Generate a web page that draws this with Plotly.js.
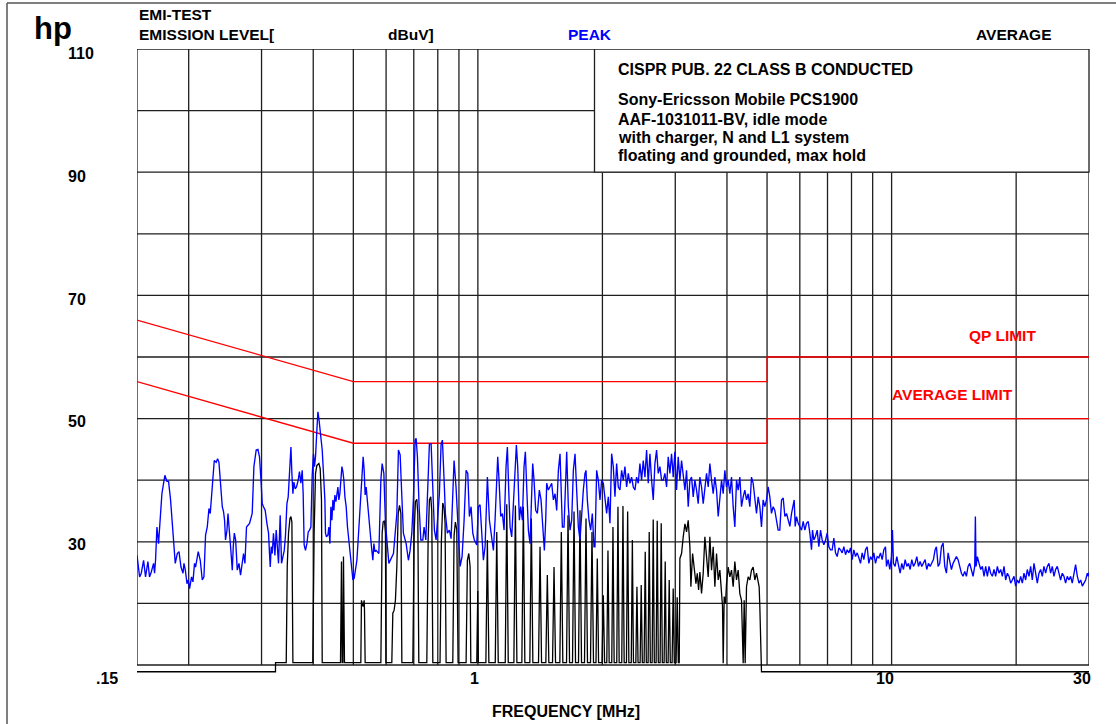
<!DOCTYPE html>
<html><head><meta charset="utf-8">
<script src="https://cdn.plot.ly/plotly-3.0.1.min.js"></script>
<style>html,body{margin:0;padding:0;background:#fff}#chart{width:1116px;height:724px}</style>
</head><body><div id="chart"></div>
<script>
// ---- PEAK trace (blue): [frequency MHz, level dBuV] ----
const peakBand1 = [[0.1500,27.8],[0.1522,24.3],[0.1536,24.9],[0.1556,27.0],[0.1573,24.3],[0.1594,26.8],[0.1608,24.3],[0.1624,25.1],[0.1645,26.5],[0.1654,24.9],[0.1663,27.0],[0.1676,32.4],[0.1691,29.7],[0.1707,34.0],[0.1723,37.8],[0.1739,39.5],[0.1752,40.8],[0.1772,39.8],[0.1788,39.8],[0.1808,36.8],[0.1828,32.2],[0.1843,30.3],[0.1856,26.5],[0.1877,28.1],[0.1895,28.4],[0.1916,25.9],[0.1938,24.9],[0.1948,26.5],[0.1963,25.4],[0.1981,23.2],[0.1995,23.8],[0.2010,22.4],[0.2032,24.3],[0.2048,23.5],[0.2066,26.5],[0.2078,25.9],[0.2109,28.4],[0.2133,27.0],[0.2157,23.8],[0.2177,24.3],[0.2197,31.1],[0.2218,32.4],[0.2239,35.4],[0.2255,34.6],[0.2276,37.8],[0.2306,43.2],[0.2331,42.9],[0.2349,43.5],[0.2367,42.9],[0.2384,39.5],[0.2411,35.7],[0.2428,34.9],[0.2442,33.5],[0.2455,30.3],[0.2475,31.9],[0.2489,34.6],[0.2511,30.3],[0.2525,29.2],[0.2539,27.0],[0.2549,25.4],[0.2563,29.2],[0.2578,31.4],[0.2597,30.3],[0.2621,25.4],[0.2646,26.5],[0.2669,24.6],[0.2690,26.2],[0.2714,28.1],[0.2735,26.5],[0.2759,32.4],[0.2806,33.0],[0.2848,34.6],[0.2875,42.2],[0.2901,44.6]];
const peakBand2 = [[0.2912,44.9],[0.2940,45.0],[0.2966,43.8],[0.2994,39.5],[0.3011,36.2],[0.3033,35.7],[0.3062,35.1],[0.3091,33.0],[0.3119,31.4],[0.3136,28.1],[0.3149,25.9],[0.3166,29.2],[0.3184,28.1],[0.3206,31.4],[0.3232,27.8],[0.3255,31.9],[0.3279,27.6],[0.3297,26.5],[0.3328,34.3],[0.3353,26.5],[0.3379,27.6],[0.3404,28.6],[0.3428,31.1],[0.3455,36.2],[0.3480,37.3],[0.3505,41.1],[0.3533,45.4],[0.3552,41.1],[0.3572,37.8],[0.3592,39.7],[0.3618,38.6],[0.3644,38.9],[0.3679,40.0],[0.3705,41.4],[0.3734,39.5],[0.3762,41.6],[0.3782,37.8],[0.3803,29.5],[0.3831,28.6],[0.3861,29.7],[0.3890,31.6],[0.3918,31.9],[0.3948,32.4],[0.3977,40.8],[0.4006,44.3],[0.4028,42.2],[0.4051,43.8],[0.4082,48.1],[0.4105,51.1],[0.4128,50.0],[0.4151,48.6],[0.4181,46.5],[0.4205,44.9],[0.4235,41.1],[0.4268,36.8],[0.4282,31.4],[0.4306,30.8],[0.4340,31.1],[0.4364,32.4],[0.4389,29.7],[0.4413,35.7],[0.4438,33.5],[0.4462,36.8],[0.4487,35.1],[0.4512,37.6],[0.4538,36.5],[0.4563,37.8],[0.4589,38.9],[0.4613,36.8],[0.4639,37.8],[0.4665,40.0],[0.4692,42.2],[0.4718,41.4],[0.4744,40.0],[0.4771,37.3],[0.4805,35.7],[0.4840,32.4],[0.4878,30.3],[0.4914,28.1],[0.4949,25.9],[0.4988,23.8],[0.5024,24.1],[0.5060,25.4],[0.5100,27.0],[0.5136,30.3],[0.5174,34.3],[0.5203,36.8],[0.5244,41.6],[0.5281,43.8],[0.5311,41.6],[0.5340,37.6],[0.5370,38.9],[0.5409,36.2],[0.5452,33.5],[0.5491,31.4],[0.5531,29.2],[0.5574,27.0],[0.5606,29.7],[0.5637,28.4],[0.5677,28.6]];
const peakBand3 = [[0.5763,28.1],[0.5828,40.0],[0.5870,42.7],[0.5926,41.1],[0.5979,33.0],[0.6026,30.3],[0.6093,26.5],[0.6251,28.1],[0.6370,34.6],[0.6427,44.9],[0.6488,44.1],[0.6550,37.3],[0.6607,31.4],[0.6708,29.7],[0.6794,27.0],[0.6858,28.6],[0.6923,31.4],[0.6986,37.0],[0.7052,46.5],[0.7091,46.8],[0.7143,43.8],[0.7211,35.7],[0.7280,30.3],[0.7361,30.3],[0.7413,32.4],[0.7484,30.3],[0.7551,37.3],[0.7636,45.9],[0.7709,45.9],[0.7782,38.9],[0.7851,31.9],[0.7925,30.3],[0.7984,34.1],[0.8072,37.8],[0.8149,45.9],[0.8209,46.5],[0.8287,40.0],[0.8346,34.6],[0.8439,31.4],[0.8534,31.9],[0.8615,30.5],[0.8697,38.9],[0.8759,43.2],[0.8856,38.9],[0.8940,32.4],[0.9057,26.0],[0.9158,27.6],[0.9262,33.5],[0.9366,41.6],[0.9454,41.1],[0.9539,34.1],[0.9629,35.7],[0.9721,31.4],[0.9806,30.3],[0.9938,29.5],[1.0028,35.7]];
const peakBand4 = [[1.0123,36.0],[1.0218,30.3],[1.0312,27.0],[1.0409,29.2],[1.0544,40.5],[1.0663,33.5],[1.0762,31.4],[1.0902,28.6],[1.1004,33.5],[1.1106,40.0],[1.1168,43.8],[1.1251,40.0],[1.1356,34.1],[1.1462,34.6],[1.1569,31.9],[1.1698,42.2],[1.1785,45.4],[1.1873,38.4],[1.1962,32.4],[1.2073,30.8],[1.2185,35.7],[1.2299,42.7],[1.2390,45.7],[1.2483,42.2],[1.2598,33.5],[1.2692,35.7],[1.2810,33.5],[1.2929,42.2],[1.3025,44.6],[1.3123,38.9],[1.3245,31.9],[1.3368,29.7],[1.3493,37.3],[1.3568,42.7],[1.3669,40.0],[1.3796,35.1],[1.3925,34.6],[1.4080,38.4],[1.4212,36.8],[1.4344,31.9],[1.4478,28.6],[1.4586,33.5],[1.4667,39.5],[1.4804,38.4],[1.4942,38.9],[1.5081,39.5],[1.5222,36.8],[1.5364,37.8],[1.5507,35.1],[1.5652,41.6],[1.5797,44.3],[1.5885,40.0],[1.6003,32.4],[1.6152,32.4],[1.6303,40.0],[1.6394,44.6],[1.6546,35.7],[1.6701,31.9],[1.6856,33.5],[1.7013,41.6],[1.7171,44.3],[1.7331,38.4],[1.7492,32.4],[1.7655,30.3],[1.7820,35.1],[1.7985,38.4],[1.8152,41.1],[1.8253,41.6],[1.8389,36.8],[1.8560,33.5],[1.8733,31.9],[1.8907,34.6],[1.9083,29.2],[1.9189,29.2],[1.9368,41.6],[1.9548,40.0],[1.9730,36.8],[1.9914,40.0],[2.0099,39.5],[2.0286,37.3],[2.0475,34.6],[2.0666,37.3],[2.0858,33.0],[2.1052,44.3],[2.1248,42.2],[2.1446,37.3],[2.1646,42.7],[2.1847,38.9],[2.2051,38.4],[2.2256,41.6],[2.2463,40.0],[2.2672,42.2],[2.2883,38.9],[2.3096,41.1],[2.3311,39.5],[2.3528,40.5],[2.3747,38.9],[2.3968,38.4],[2.4191,40.5],[2.4416,39.5],[2.4643,42.7],[2.4873,40.0],[2.5104,43.2],[2.5338,40.5],[2.5574,44.9],[2.5812,39.5],[2.6052,44.3],[2.6295,40.0],[2.6540,36.8],[2.6787,42.7],[2.7036,44.9],[2.7288,41.1],[2.7542,42.2],[2.7798,40.0],[2.8057,40.0],[2.8318,41.1],[2.8582,38.9],[2.8848,43.8],[2.9116,41.1],[2.9387,44.3],[2.9661,40.5],[2.9937,44.6],[3.0216,38.4],[3.0497,43.8],[3.0781,40.0],[3.1068,43.2],[3.1357,41.1],[3.1658,38.4],[3.1944,41.6],[3.2242,35.7],[3.2542,40.0],[3.2845,40.5],[3.3151,37.3],[3.3460,40.0],[3.3771,38.4],[3.4086,36.2],[3.4403,40.5],[3.4723,38.9],[3.5047,36.2],[3.5373,38.9],[3.5703,41.1],[3.6035,38.9],[3.6371,42.7],[3.6709,40.0],[3.7051,37.8],[3.7396,40.5],[3.7744,38.4],[3.8096,34.1],[3.8450,37.3],[3.8808,40.0],[3.9170,37.8],[3.9534,41.6],[3.9902,38.9],[4.0274,40.0],[4.0649,37.8],[4.1027,40.5],[4.1409,35.7],[4.1795,32.4],[4.2184,40.0],[4.2577,38.4],[4.2973,40.5],[4.3373,35.7],[4.3777,37.3],[4.4184,38.4],[4.4596,36.8],[4.5011,37.8],[4.5430,35.7],[4.5853,40.5],[4.6280,39.5],[4.6711,37.3],[4.7146,34.6],[4.7585,37.3],[4.8028,35.7],[4.8475,32.4],[4.8926,36.8],[4.9382,35.7],[4.9842,36.8],[5.0306,38.9],[5.0774,37.3],[5.1247,34.6],[5.1724,35.7],[5.2205,35.1],[5.2691,33.5],[5.3182,31.9],[5.3676,31.9]];
const peakBand5 = [[5.4196,36.8],[5.4702,37.1],[5.5212,34.1],[5.5726,34.6],[5.6245,33.6],[5.6769,32.5],[5.7298,34.6],[5.7831,36.3],[5.8153,36.8],[5.8477,32.5],[5.8912,34.1],[5.9461,33.0],[6.0015,32.5],[6.0574,31.9],[6.1138,33.3],[6.1708,31.9],[6.2283,33.0],[6.2863,33.3],[6.3449,31.4],[6.4040,28.7],[6.4397,31.9],[6.4876,30.3],[6.5480,30.9],[6.6090,31.9],[6.6706,29.2],[6.7328,31.9],[6.7955,30.3],[6.8588,29.5],[6.9227,30.3],[6.9872,31.4],[7.0523,29.2],[7.1180,28.7],[7.1843,28.7],[7.2512,30.6],[7.3188,28.2],[7.3869,27.6],[7.4558,29.0],[7.5252,28.7],[7.5953,28.2],[7.6661,29.2],[7.7375,27.9],[7.8095,28.7],[7.8823,28.2],[7.9557,29.0],[8.0298,27.1],[8.1046,28.7],[8.1801,27.6],[8.2563,28.2],[8.3331,27.4],[8.4108,26.5],[8.4891,28.2],[8.5682,27.1],[8.6480,28.7],[8.7286,29.2],[8.8099,26.5],[8.8919,27.6],[8.9747,27.1],[9.0583,28.2],[9.1427,26.5],[9.2279,27.6],[9.3138,27.4],[9.4006,28.2],[9.4881,27.1],[9.5765,28.7],[9.6657,29.2],[9.7195,26.0],[9.8100,27.1],[9.9003,25.5],[9.9926,27.6],[10.048,31.9],[10.104,26.5],[10.198,26.0],[10.293,27.6],[10.389,26.5],[10.486,24.9],[10.584,26.5],[10.682,25.5],[10.782,27.1],[10.882,26.0],[10.984,26.5],[11.086,25.5],[11.189,27.1],[11.293,26.0],[11.398,26.5],[11.505,27.6],[11.612,26.0],[11.720,26.8],[11.829,26.0],[11.939,26.5],[12.050,27.1],[12.162,25.5],[12.276,26.5],[12.390,26.0],[12.505,26.5],[12.622,27.1],[12.739,28.7],[12.834,29.2],[12.954,26.0],[13.074,26.5],[13.196,29.2],[13.319,29.8],[13.443,26.0],[13.568,24.9],[13.694,28.2],[13.822,27.1],[13.950,25.5],[14.080,26.5],[14.211,27.1],[14.343,27.6],[14.477,27.1],[14.612,26.0],[14.748,24.9],[14.885,24.4],[15.024,25.2],[15.163,24.4],[15.304,26.0],[15.446,26.5],[15.590,25.5],[15.735,24.4],[15.881,26.0],[15.940,34.1],[15.999,26.0],[16.118,27.6],[16.268,26.5],[16.419,25.5],[16.572,26.0],[16.726,24.4],[16.882,26.0],[17.039,24.4],[17.198,26.0],[17.358,24.9],[17.519,24.4],[17.682,25.5],[17.847,24.4],[18.013,26.0],[18.180,24.9],[18.350,25.5],[18.521,24.4],[18.693,26.0],[18.867,23.8],[19.043,24.9],[19.220,24.4],[19.399,23.3],[19.579,23.8],[19.762,24.4],[19.946,22.8],[20.131,23.8],[20.319,23.3],[20.508,24.4],[20.699,23.3],[20.892,24.9],[21.086,23.8],[21.282,25.5],[21.480,24.4],[21.680,26.0],[21.882,23.8],[22.086,26.5],[22.292,24.9],[22.499,23.3],[22.709,24.9],[22.920,25.5],[23.133,24.4],[23.349,26.0],[23.566,24.9],[23.785,26.0],[24.007,26.5],[24.230,24.9],[24.456,26.0],[24.683,24.4],[24.913,25.5],[25.145,26.0],[25.379,24.9],[25.615,23.8],[25.854,24.9],[26.095,24.4],[26.337,23.3],[26.583,24.4],[26.830,23.8],[27.080,24.4],[27.332,23.3],[27.586,24.9],[27.843,26.3],[28.117,24.4],[28.379,23.3],[28.644,23.8],[28.909,22.8],[29.174,23.3],[29.446,23.8],[29.721,24.9],[29.886,24.4],[30.0,25.0]];

// ---- AVERAGE trace (black): [frequency MHz, level dBuV] ----
const avgBand1 = [[0.150,8.9],[0.3242,8.9],[0.3243,10.4],[0.3442,10.4],[0.3461,26.0],[0.3486,31.4],[0.3514,33.8],[0.3533,34.1],[0.3552,33.2],[0.3572,10.4],[0.3990,10.4],[0.4020,31.4],[0.4051,41.1],[0.4082,42.4],[0.4128,42.7],[0.4158,41.9],[0.4188,36.8],[0.4205,10.4],[0.4655,10.4],[0.4681,26.8],[0.4699,10.4],[0.4718,10.4],[0.4733,27.6],[0.4760,10.4],[0.5213,10.4],[0.5231,20.5],[0.5252,20.0],[0.5281,19.5],[0.5311,20.5],[0.5320,19.0],[0.5340,10.4],[0.5828,10.4],[0.5870,31.4],[0.5902,33.2],[0.5946,33.4],[0.5979,31.4],[0.5995,10.4],[0.6194,10.4],[0.6229,18.4],[0.6275,18.9],[0.6320,20.5],[0.6370,26.0],[0.6418,34.6],[0.6465,35.9],[0.6516,34.6],[0.6550,10.4],[0.6963,10.4],[0.7014,31.4],[0.7063,36.5],[0.7119,36.9],[0.7158,34.6],[0.7198,10.4],[0.7526,10.4],[0.7580,30.0],[0.7636,36.8],[0.7694,37.3],[0.7737,35.0],[0.7782,10.4],[0.8101,10.4],[0.8161,30.0],[0.8225,36.3],[0.8287,35.5],[0.8332,33.0],[0.8379,10.4],[0.8697,10.4],[0.8759,31.0],[0.8824,33.2],[0.8892,32.0],[0.8957,10.4],[0.9366,10.4],[0.9432,27.0],[0.9506,28.1],[0.9576,26.0],[0.9614,10.4],[0.9938,10.4],[0.9995,22.0],[1.0028,10.4]];
const avgBand2 = [[1.0455,10.4],[1.0543,30.3],[1.0631,10.4],[1.1016,10.4],[1.1108,31.6],[1.1201,10.4],[1.1646,10.4],[1.1744,36.1],[1.1842,10.4],[1.2219,10.4],[1.2322,35.9],[1.2425,10.4],[1.2773,10.4],[1.2880,35.7],[1.2988,10.4],[1.3354,10.4],[1.3466,33.8],[1.3579,10.4],[1.4015,10.4],[1.4133,29.2],[1.4252,10.4],[1.4597,10.4],[1.4719,24.6],[1.4843,10.4],[1.5151,10.4],[1.5278,25.9],[1.5406,10.4],[1.5780,10.4],[1.5912,31.6],[1.6045,10.4],[1.6379,10.4],[1.6516,34.3],[1.6655,10.4],[1.6934,10.4],[1.7076,34.9],[1.7219,10.4],[1.7509,10.4],[1.7655,35.1],[1.7803,10.4],[1.8102,10.4],[1.8253,33.8],[1.8406,10.4],[1.8716,10.4],[1.8872,31.6],[1.9030,10.4],[1.9297,10.4],[1.9437,27.3],[1.9577,10.4],[1.9953,10.4],[2.0097,21.3],[2.0243,10.4],[2.0491,10.4],[2.0628,28.6],[2.0766,10.4],[2.1068,10.4],[2.1209,32.4],[2.1351,10.4],[2.1662,10.4],[2.1807,35.7],[2.1953,10.4],[2.2273,10.4],[2.2422,35.8],[2.2572,10.4],[2.2862,10.4],[2.3015,34.9],[2.3169,10.4],[2.3482,10.4],[2.3626,30.3],[2.3771,10.4],[2.4088,10.4],[2.4236,22.7],[2.4385,10.4],[2.4670,10.4],[2.4821,23.0],[2.4974,10.4],[2.5226,10.4],[2.5381,28.4],[2.5537,10.4],[2.5793,10.4],[2.5951,31.6],[2.6111,10.4],[2.6374,10.4],[2.6535,33.6],[2.6698,10.4],[2.6967,10.4],[2.7132,33.4],[2.7298,10.4],[2.7573,10.4],[2.7742,33.0],[2.7912,10.4],[2.8193,10.4],[2.8366,26.8],[2.8540,10.4],[2.8827,10.4],[2.9004,23.8],[2.9182,10.4],[2.9477,10.4],[2.9656,22.4],[2.9839,10.4],[3.0139,10.4],[3.0324,21.0],[3.0510,10.4]];
const avgBand3 = [[3.0669,10.4],[3.0781,27.3],[3.1068,28.1],[3.1357,30.8],[3.1658,32.9],[3.1944,31.6],[3.2242,33.5],[3.2542,29.2],[3.2724,22.7],[3.3037,28.1],[3.3283,25.9],[3.3655,23.2],[3.3906,24.9],[3.4158,22.2],[3.4403,25.1],[3.4723,21.6],[3.5047,24.9],[3.5373,30.8],[3.5703,27.6],[3.6035,24.3],[3.6371,30.8],[3.6709,25.4],[3.7051,29.2],[3.7396,22.7],[3.7744,28.1],[3.8096,23.8],[3.8450,25.4],[3.8808,20.5],[3.9025,19.5],[3.9170,10.3],[3.9387,21.1],[3.9680,20.0],[3.9902,23.2],[4.0274,25.9],[4.0649,24.3],[4.1027,25.4],[4.1409,22.7],[4.1795,26.8],[4.2184,23.8],[4.2577,25.4],[4.2973,21.6],[4.3373,20.5],[4.3777,10.3],[4.4022,20.5],[4.4266,10.3],[4.4596,22.7],[4.5011,24.3],[4.5430,23.8],[4.5853,25.4],[4.6280,25.9],[4.6711,23.8],[4.7146,24.9],[4.7585,23.8],[4.7851,22.7],[4.8028,19.5],[4.8297,10.3],[4.8475,8.9],[30.0,8.9]];

// ---- CISPR 22 class B limits ----
const qpLimitFreq = [0.15, 0.5, 5, 5, 30];
const qpLimitLevel = [66, 56, 56, 60, 60];
const avLimitFreq = [0.15, 0.5, 5, 5, 30];
const avLimitLevel = [56, 46, 46, 50, 50];

// ---- grid and tick labels ----
const gridFreqs = [0.15,0.2,0.3,0.4,0.5,0.6,0.7,0.8,0.9,1,2,3,4,5,6,7,8,9,10,20,30];
const gridLevels = [10,20,30,40,50,60,70,80,90,100,110];
const yTickVals = [110, 90, 70, 50, 30];
const xTickText = ['.15', '1', '10', '30'];
const noteTitle = 'CISPR PUB. 22 CLASS B CONDUCTED';
const noteLines = ['Sony-Ericsson Mobile PCS1900', 'AAF-1031011-BV, idle mode', 'with charger, N and L1 system', 'floating and grounded, max hold'];

const peak = [].concat(peakBand1, peakBand2, peakBand3, peakBand4, peakBand5);
const avg = [].concat(avgBand1, avgBand2, avgBand3);

const gx = [], gy = [];
gridFreqs.forEach(f => { gx.push(f, f, null); gy.push(10, 110, null); });
gridLevels.forEach(v => { gx.push(0.15, 30, null); gy.push(v, v, null); });

const FONT = '"Liberation Sans", Arial, Helvetica, sans-serif';
// layout helpers: convert page pixels to paper coordinates
const L = 137, R = 1089, T = 49, B = 673;
const PX = p => (p - L) / (R - L);
const PY = p => (B - p) / (B - T);

const traces = [
  {x: gx, y: gy, mode: 'lines', line: {color: '#1e1e1e', width: 1.3}, hoverinfo: 'skip'},
  {x: qpLimitFreq, y: qpLimitLevel, mode: 'lines', line: {color: '#ff0000', width: 1.3}, name: 'QP LIMIT'},
  {x: avLimitFreq, y: avLimitLevel, mode: 'lines', line: {color: '#ff0000', width: 1.3}, name: 'AVERAGE LIMIT'},
  {x: avg.map(p => p[0]), y: avg.map(p => p[1]), mode: 'lines', line: {color: '#000000', width: 1.3}, name: 'AVERAGE'},
  {x: peak.map(p => p[0]), y: peak.map(p => p[1]), mode: 'lines', line: {color: '#0000ff', width: 1.35}, name: 'PEAK'}
];

function ann(text, px, py, opts) {
  return Object.assign({text: text, x: PX(px), y: PY(py), xref: 'paper', yref: 'paper',
    showarrow: false, xanchor: 'left', yanchor: 'middle',
    font: {family: FONT, size: 15.5, color: '#000'}}, opts || {});
}

const annotations = [
  ann('<b>hp</b>', 52.5, 29, {xanchor: 'center', font: {family: FONT, size: 31, color: '#000'}}),
  ann('<b>EMI-TEST</b>', 137, 15),
  ann('<b>EMISSION LEVEL[</b>', 137, 34),
  ann('<b>dBuV]</b>', 386, 34),
  ann('<b>PEAK</b>', 566, 34, {font: {family: FONT, size: 15.5, color: '#0000ff'}}),
  ann('<b>AVERAGE</b>', 974, 34),
  ann('<b>' + noteTitle + '</b>', 616, 69, {font: {family: FONT, size: 16, color: '#000'}}),
  ann('<b>QP LIMIT</b>', 967, 335.5, {font: {family: FONT, size: 15.5, color: '#ff0000'}}),
  ann('<b>AVERAGE LIMIT</b>', 890, 394.5, {font: {family: FONT, size: 15.5, color: '#ff0000'}}),
  ann('<b>FREQUENCY [MHz]</b>', 566, 711.5, {xanchor: 'center', font: {family: FONT, size: 16, color: '#000'}})
];
const noteY = [99, 119, 137.5, 156];
noteLines.forEach((t, i) => annotations.push(ann('<b>' + t + '</b>', 616, noteY[i], {font: {family: FONT, size: 16, color: '#000'}})));
const yLabelY = [54, 176.7, 299.7, 421.3, 544.2];
yTickVals.forEach((v, i) => annotations.push(ann('<b>' + v + '</b>', 65.5, yLabelY[i], {font: {family: FONT, size: 16, color: '#000'}})));
const xLabelX = [107, 474.5, 885, 1082];
xTickText.forEach((t, i) => annotations.push(ann('<b>' + t + '</b>', xLabelX[i], 678, {xanchor: 'center', font: {family: FONT, size: 16, color: '#000'}})));

const shapes = [
  {type: 'rect', xref: 'paper', yref: 'y', x0: PX(594.5), x1: 1, y0: 90, y1: 110,
   fillcolor: '#ffffff', line: {color: '#1e1e1e', width: 1.3}, layer: 'above'},
  {type: 'line', xref: 'paper', yref: 'paper', x0: PX(7), x1: PX(1116), y0: PY(3), y1: PY(3), line: {color: '#555', width: 1.5}},
  {type: 'line', xref: 'paper', yref: 'paper', x0: PX(7), x1: PX(7), y0: PY(3), y1: PY(724), line: {color: '#555', width: 1.5}}
];

const layout = {
  width: 1116, height: 724,
  margin: {l: L, r: 1116 - R, t: T, b: 724 - B, pad: 0},
  paper_bgcolor: '#ffffff', plot_bgcolor: '#ffffff',
  showlegend: false, hovermode: false,
  xaxis: {type: 'log', range: [Math.log10(0.15), Math.log10(30)], showgrid: false, zeroline: false,
          showticklabels: false, ticks: '', showline: false},
  yaxis: {range: [8.7, 110], showgrid: false, zeroline: false, showticklabels: false, ticks: '', showline: false},
  annotations: annotations,
  shapes: shapes
};

Plotly.newPlot('chart', traces, layout, {staticPlot: true, displayModeBar: false});
</script>
</body></html>
